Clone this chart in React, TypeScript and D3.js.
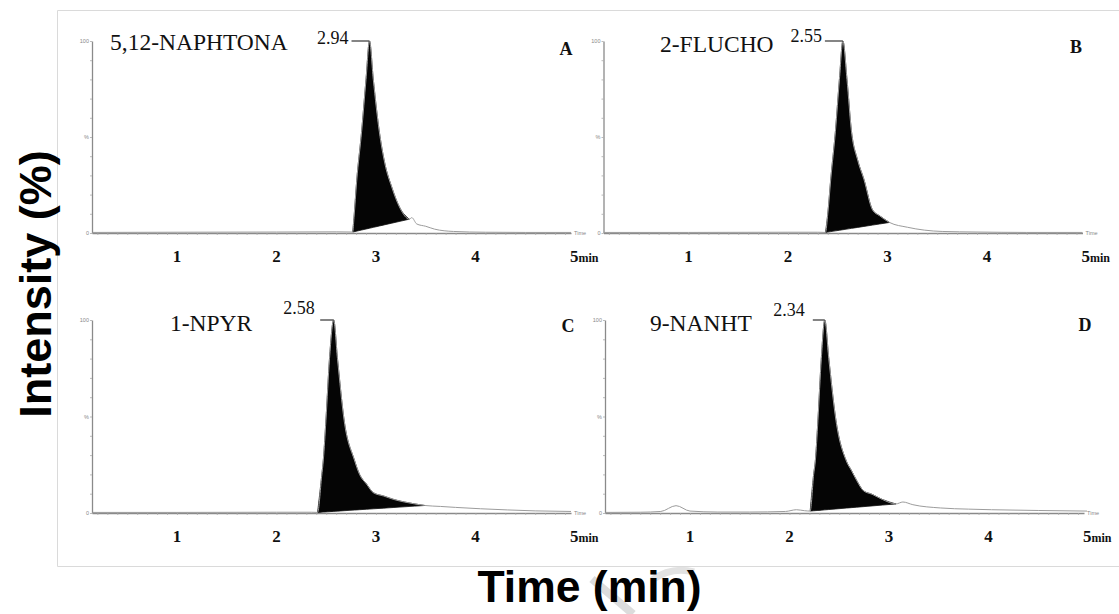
import React, { useEffect, useRef } from 'react'
import * as d3 from 'd3'

// compounds, one per panel (A..D)
const compounds = ['5,12-NAPHTONA', '2-FLUCHO', '1-NPYR', '9-NANHT']
const panelLetters = ['A', 'B', 'C', 'D']
const peakLabels = ['2.94', '2.55', '2.58', '2.34']
const xTickLabels = [1, 2, 3, 4, 5]

// chromatogram traces: time (min) / intensity (%)
const timeA = [0.15, 1.0, 2.0, 2.6, 2.766, 2.779, 2.806, 2.856, 2.9, 2.935, 2.973, 3.033, 3.09, 3.158, 3.241, 3.335, 3.36, 3.41, 3.5, 3.59, 3.78, 4.1, 4.5, 4.96]
const intA = [0.3, 0.4, 0.5, 0.6, 0.5, 8, 27, 53, 80, 100, 80, 53, 36, 24, 13, 7.2, 8, 4.7, 3.5, 2, 0.8, 0.4, 0.3, 0.3]
const fillA = [2.766, 3.335]

const timeB = [0.15, 1.0, 2.0, 2.3, 2.377, 2.4, 2.43, 2.477, 2.517, 2.552, 2.593, 2.638, 2.7, 2.763, 2.85, 2.92, 3.02, 3.2, 3.37, 3.55, 3.9, 4.4, 4.96]
const intB = [0.3, 0.3, 0.4, 0.4, 0.3, 10, 28, 53, 80, 100, 80, 53, 38, 28, 12, 9, 5.5, 3, 1.5, 0.8, 0.5, 0.3, 0.3]
const fillB = [2.377, 3.02]

const timeC = [0.15, 1.0, 2.0, 2.35, 2.413, 2.454, 2.471, 2.497, 2.533, 2.575, 2.613, 2.68, 2.783, 2.835, 2.905, 2.974, 3.077, 3.18, 3.285, 3.39, 3.49, 3.65, 3.8, 4.05, 4.32, 4.6, 4.96]
const intC = [0.3, 0.3, 0.4, 0.4, 0.3, 19, 27.5, 48, 80, 100, 80, 48, 27.5, 20, 15, 10.5, 8.8, 7, 5.7, 4.7, 3.9, 3.4, 2.9, 2.2, 1.6, 1.1, 0.8]
const fillC = [2.413, 3.49]

const timeD = [0.15, 0.5, 0.707, 0.86, 1.0, 1.28, 1.6, 1.96, 2.07, 2.15, 2.208, 2.243, 2.26, 2.286, 2.32, 2.355, 2.395, 2.467, 2.571, 2.623, 2.674, 2.744, 2.83, 2.934, 3.07, 3.14, 3.24, 3.52, 3.8, 4.03, 4.5, 4.99]
const intD = [0.3, 0.4, 0.8, 3.8, 1.0, 0.5, 0.5, 0.8, 1.7, 1.2, 1.0, 20, 27, 48, 80, 100, 80, 48, 27, 22, 17, 11.5, 9.7, 7, 4.7, 5.7, 4.3, 2.6, 2.0, 1.7, 1.3, 1.0]
const fillD = [2.208, 3.07]

const W = 1119, H = 614
const serif = '"Times New Roman", "Liberation Serif", serif'
const sans = 'Arial, "Liberation Sans", sans-serif'

export default function App() {
  const ref = useRef<SVGSVGElement | null>(null)

  useEffect(() => {
    if (!ref.current) return
    const svg = d3.select(ref.current)
    svg.selectAll('*').remove()
    svg.append('rect').attr('width', W).attr('height', H).attr('fill', '#fff')

    // faint watermark fragment behind the x title
    svg.append('path').attr('d', 'M592,579 L633,614').attr('stroke', '#dcdcdc').attr('stroke-width', 8).attr('fill', 'none')
    svg.append('path').attr('d', 'M652,580 Q672,566 694,572').attr('stroke', '#e2e2e2').attr('stroke-width', 7).attr('fill', 'none')

    // frame
    svg.append('path').attr('d', `M${W},10.5 H57.5 V566.5 H${W}`).attr('fill', 'none').attr('stroke', '#dadada').attr('stroke-width', 1)

    const panels = [
      { t: timeA, v: intA, f: fillA, axisX: 92, top: 41, bottom: 233, nameX: 110, nameY: 50, letterX: 566, letterY: 55, lblDy: 3, lblGap: 21, lineGap: 18 },
      { t: timeB, v: intB, f: fillB, axisX: 603.5, top: 41, bottom: 233, nameX: 660, nameY: 52, letterX: 1076, letterY: 53, lblDy: 1, lblGap: 21, lineGap: 18 },
      { t: timeC, v: intC, f: fillC, axisX: 92, top: 320, bottom: 513, nameX: 170, nameY: 331, letterX: 568, letterY: 332, lblDy: -6, lblGap: 19, lineGap: 13.5 },
      { t: timeD, v: intD, f: fillD, axisX: 605, top: 320, bottom: 513, nameX: 650, nameY: 331, letterX: 1085, letterY: 331, lblDy: -4, lblGap: 20, lineGap: 12 },
    ]

    panels.forEach((p, i) => {
      const g = svg.append('g')
      const x = d3.scaleLinear().domain([0.146, 4.96]).range([p.axisX, p.axisX + 479])
      const y = d3.scaleLinear().domain([0, 100]).range([p.bottom, p.top])
      const pts = p.t.map((t, k) => ({ t, v: p.v[k] }))

      // axes
      const yAx = g.append('g').attr('transform', `translate(${p.axisX},0)`)
        .call(d3.axisLeft(y).tickValues(d3.range(0, 101, 10)).tickSize(2).tickSizeOuter(0).tickFormat(() => ''))
      const xAx = g.append('g').attr('transform', `translate(0,${p.bottom})`)
        .call(d3.axisBottom(x).tickValues(d3.range(2, 50).map(d => d / 10)).tickSize(2).tickSizeOuter(0).tickFormat(() => ''))
      ;[yAx, xAx].forEach(a => {
        a.select('.domain').attr('stroke', '#8a8a8a').attr('stroke-width', 1.3)
        a.selectAll('.tick line').attr('stroke', '#aaa').attr('stroke-width', 0.8)
      })

      const tiny = (txt: string, tx: number, ty: number, anchor: string) =>
        g.append('text').text(txt).attr('x', tx).attr('y', ty).attr('font-size', 5.5)
          .attr('font-family', sans).attr('fill', '#888').attr('text-anchor', anchor)
      tiny('100', p.axisX - 3, y(100) + 2, 'end')
      tiny('%', p.axisX - 3, y(50) + 2, 'end')
      tiny('0', p.axisX - 3, y(0) + 2, 'end')
      tiny('Time', x(4.96) + 3, y(0) + 2, 'start')

      // integrated peak (black) with straight integration baseline
      const [t0, t1] = p.f
      const v0 = pts.find(d => d.t === t0)!.v
      const v1 = pts.find(d => d.t === t1)!.v
      const inPeak = pts.filter(d => d.t >= t0 && d.t <= t1)
      const area = d3.area<{ t: number; v: number }>()
        .x(d => x(d.t))
        .y0(d => y(v0 + (v1 - v0) * (d.t - t0) / (t1 - t0)))
        .y1(d => y(d.v))
        .curve(d3.curveMonotoneX)
      g.append('path').attr('d', area(inPeak)).attr('fill', '#050505').attr('stroke', '#111').attr('stroke-width', 0.8)

      // full trace
      const line = d3.line<{ t: number; v: number }>().x(d => x(d.t)).y(d => y(d.v)).curve(d3.curveMonotoneX)
      g.append('path').attr('d', line(pts)).attr('fill', 'none').attr('stroke', '#9c9c9c').attr('stroke-width', 1)

      // retention time label with leader line to apex
      const apex = pts.reduce((a, b) => (b.v > a.v ? b : a))
      const ax = x(apex.t), ay = y(apex.v)
      g.append('line').attr('x1', ax - p.lineGap).attr('x2', ax).attr('y1', ay).attr('y2', ay)
        .attr('stroke', '#333').attr('stroke-width', 1.2)
      g.append('text').text(peakLabels[i]).attr('x', ax - p.lblGap).attr('y', ay + p.lblDy)
        .attr('text-anchor', 'end').attr('font-family', serif).attr('font-size', 18).attr('fill', '#111')

      // compound name and panel letter
      g.append('text').text(compounds[i]).attr('x', p.nameX).attr('y', p.nameY)
        .attr('font-family', serif).attr('font-size', 23.5).attr('fill', '#111')
      g.append('text').text(panelLetters[i]).attr('x', p.letterX).attr('y', p.letterY)
        .attr('text-anchor', 'middle').attr('font-family', serif).attr('font-weight', 'bold').attr('font-size', 18).attr('fill', '#111')

      // bold minute labels under the axis
      xTickLabels.forEach(m => {
        const tx = g.append('text').attr('y', p.bottom + 29).attr('font-family', serif)
          .attr('font-weight', 'bold').attr('font-size', 17).attr('fill', '#111')
        if (m === 5) {
          tx.attr('x', x(m) - 5).attr('text-anchor', 'start')
          tx.append('tspan').text(String(m))
          tx.append('tspan').text('min').attr('font-size', 12)
        } else {
          tx.attr('x', x(m)).attr('text-anchor', 'middle').text(String(m))
        }
      })
    })

    // shared axis titles
    svg.append('text').text('Intensity (%)').attr('transform', 'translate(51,284) rotate(-90)')
      .attr('text-anchor', 'middle').attr('font-family', sans).attr('font-weight', 'bold').attr('font-size', 45).attr('fill', '#000')
    svg.append('text').text('Time (min)').attr('x', 589.5).attr('y', 602)
      .attr('text-anchor', 'middle').attr('font-family', sans).attr('font-weight', 'bold').attr('font-size', 44.5).attr('fill', '#000')
  }, [])

  return <svg ref={ref} width={W} height={H} style={{ position: 'absolute', left: 0, top: 0, display: 'block' }} />
}
